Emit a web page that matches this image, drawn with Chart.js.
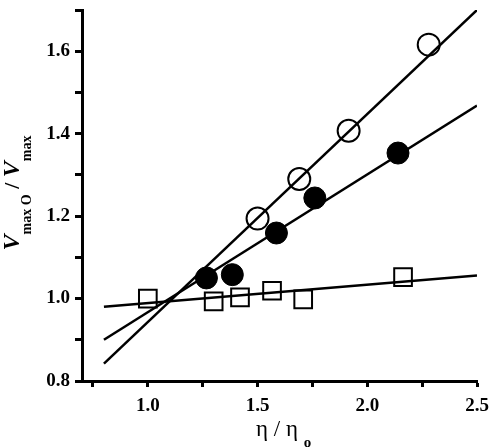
<!DOCTYPE html>
<html>
<head>
<meta charset="utf-8">
<title>Vmax O / Vmax vs eta / eta o</title>
<script src="https://cdn.jsdelivr.net/npm/chart.js"></script>
<style>
  html, body { margin: 0; padding: 0; background: #fff; }
  #wrap { width: 492px; height: 448px; position: relative; }
</style>
</head>
<body>
<div id="wrap"><canvas id="chart"></canvas></div>
<script>
// valores
const openX = [1.50, 1.69, 1.915, 2.28];
const openY = [1.194, 1.29, 1.407, 1.616];
const filledX = [1.267, 1.385, 1.586, 1.761, 2.14];
const filledY = [1.050, 1.058, 1.159, 1.244, 1.353];
const squareX = [1.00, 1.30, 1.42, 1.566, 1.708, 2.163];
const squareY = [1.000, 0.993, 1.003, 1.019, 0.998, 1.052];

// rectas de ajuste (extremos)
const fitX = [0.8, 2.5];
const fitOpen = [0.842, 1.700];
const fitFilled = [0.900, 1.468];
const fitSquare = [0.980, 1.056];

// marcas de los ejes
const xTicks = [0.75, 1.0, 1.25, 1.5, 1.75, 2.0, 2.25, 2.5];
const xLabels = ['', '1.0', '', '1.5', '', '2.0', '', '2.5'];
const yTicks = [0.8, 0.9, 1.0, 1.1, 1.2, 1.3, 1.4, 1.5, 1.6, 1.7];
const yLabels = ['0.8', '', '1.0', '', '1.2', '', '1.4', '', '1.6', ''];

const serif = '"Liberation Serif", "Times New Roman", serif';
const pts = (xs, ys) => xs.map((x, i) => ({ x: x, y: ys[i] }));

// titulos de ejes con subindices
const axisTitles = {
  id: 'axisTitles',
  afterDraw(chart) {
    const ctx = chart.ctx;
    ctx.save();
    ctx.fillStyle = '#000';
    ctx.textBaseline = 'alphabetic';
    ctx.textAlign = 'left';

    // eje y: V max O / V max
    const big = 'italic bold 24px ' + serif;
    const sub = 'bold 14px ' + serif;
    const slash = 'bold 22px ' + serif;
    const runs = [
      { t: 'V', f: big, dy: 0 },
      { t: 'max O', f: sub, dy: 12 },
      { t: ' / ', f: slash, dy: 0 },
      { t: 'V', f: big, dy: 0 },
      { t: 'max', f: sub, dy: 12 }
    ];
    let total = 0;
    runs.forEach(r => { ctx.font = r.f; r.w = ctx.measureText(r.t).width; total += r.w; });
    ctx.translate(19, 193);
    ctx.rotate(-Math.PI / 2);
    let cx = -total / 2;
    runs.forEach(r => { ctx.font = r.f; ctx.fillText(r.t, cx, r.dy); cx += r.w; });
    ctx.restore();

    // eje x: eta / eta o
    ctx.save();
    ctx.fillStyle = '#000';
    ctx.textBaseline = 'alphabetic';
    ctx.textAlign = 'left';
    const xr = [
      { t: '\u03B7 / \u03B7 ', f: '23px ' + serif, dy: 0 },
      { t: 'o', f: 'bold 15px ' + serif, dy: 11 }
    ];
    let px = 256;
    xr.forEach(r => { ctx.font = r.f; ctx.fillText(r.t, px, 436 + r.dy); px += ctx.measureText(r.t).width; });
    ctx.restore();
  }
};

const ctx = document.getElementById('chart').getContext('2d');
new Chart(ctx, {
  type: 'scatter',
  data: {
    datasets: [
      {
        data: pts(openX, openY),
        pointStyle: 'circle', pointRadius: 11, borderWidth: 2,
        borderColor: '#000', backgroundColor: 'rgba(0,0,0,0)'
      },
      {
        data: pts(filledX, filledY),
        pointStyle: 'circle', pointRadius: 11, borderWidth: 1,
        borderColor: '#000', backgroundColor: '#000'
      },
      {
        data: pts(squareX, squareY),
        pointStyle: 'rect', pointRadius: 12.5, borderWidth: 2,
        borderColor: '#000', backgroundColor: 'rgba(0,0,0,0)'
      },
      { type: 'line', data: pts(fitX, fitOpen), borderColor: '#000', borderWidth: 2.5, pointRadius: 0, fill: false },
      { type: 'line', data: pts(fitX, fitFilled), borderColor: '#000', borderWidth: 2.5, pointRadius: 0, fill: false },
      { type: 'line', data: pts(fitX, fitSquare), borderColor: '#000', borderWidth: 2.5, pointRadius: 0, fill: false }
    ]
  },
  options: {
    responsive: true,
    maintainAspectRatio: false,
    animation: false,
    layout: { autoPadding: false, padding: { top: 10, right: 15, left: 0, bottom: 0 } },
    plugins: { legend: { display: false }, tooltip: { enabled: false } },
    scales: {
      x: {
        type: 'linear', min: 0.7, max: 2.5,
        afterBuildTicks: s => { s.ticks = xTicks.map(v => ({ value: v })); },
        afterFit: s => { s.height = 67; s.paddingLeft = 0; s.paddingRight = 0; },
        ticks: {
          autoSkip: false, maxRotation: 0, padding: 8, color: '#000',
          font: { family: serif, size: 19, weight: 'bold' },
          callback: (v, i) => xLabels[i]
        },
        grid: { drawOnChartArea: false, tickLength: 6, tickWidth: 3, tickColor: '#000' },
        border: { display: true, width: 3, color: '#000' }
      },
      y: {
        type: 'linear', min: 0.8, max: 1.7,
        afterBuildTicks: s => { s.ticks = yTicks.map(v => ({ value: v })); },
        afterFit: s => { s.width = 82; s.paddingTop = 0; s.paddingBottom = 0; },
        ticks: {
          autoSkip: false, padding: 5, color: '#000',
          font: { family: serif, size: 19, weight: 'bold' },
          callback: (v, i) => yLabels[i]
        },
        grid: { drawOnChartArea: false, tickLength: 7, tickWidth: 3, tickColor: '#000' },
        border: { display: true, width: 3, color: '#000' }
      }
    }
  },
  plugins: [axisTitles]
});
</script>
</body>
</html>
